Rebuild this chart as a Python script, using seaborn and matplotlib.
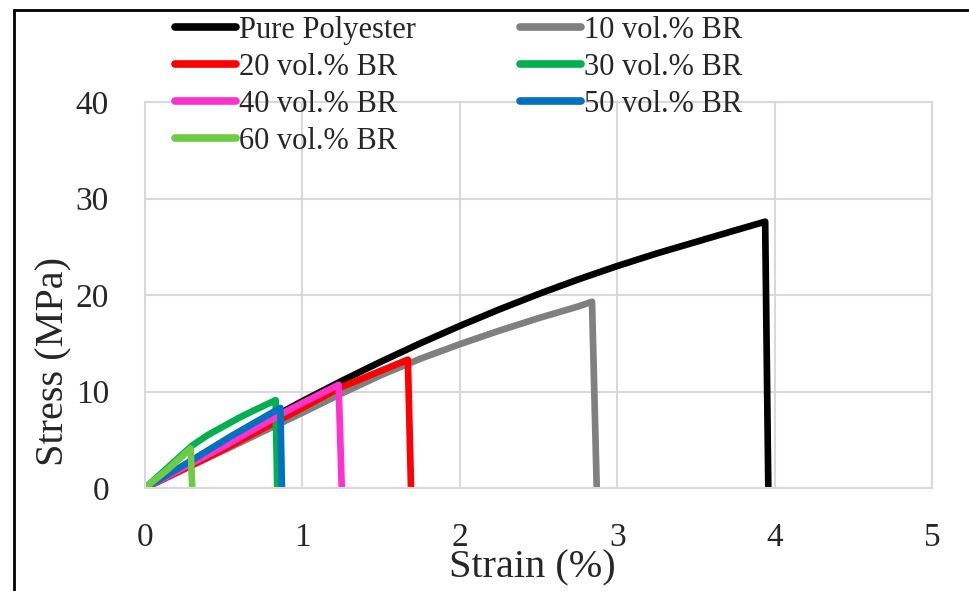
import matplotlib
matplotlib.use("Agg")
import matplotlib.pyplot as plt
from matplotlib.lines import Line2D
from matplotlib.patches import Rectangle
import seaborn as sns
import pandas as pd

# ---- data ----
labels = ["Pure Polyester", "10 vol.% BR", "20 vol.% BR", "30 vol.% BR",
          "40 vol.% BR", "50 vol.% BR", "60 vol.% BR"]
colors = ["#000000", "#808080", "#FF0000", "#00B050", "#FF33CC", "#0070C0", "#6DCC44"]

pure_x = [0, 0.25, 0.5, 0.75, 1.0, 1.25, 1.5, 1.75, 2.0, 2.25, 2.5, 2.75, 3.0, 3.25, 3.5, 3.75, 3.94, 3.96]
pure_y = [0, 2.3, 4.6, 6.8, 9.0, 11.1, 13.1, 15.0, 16.8, 18.5, 20.1, 21.6, 23.0, 24.3, 25.5, 26.7, 27.6, 0]
br10_x = [0, 0.5, 1.0, 1.25, 1.5, 1.75, 2.0, 2.25, 2.5, 2.75, 2.84, 2.87]
br10_y = [0, 3.9, 7.8, 9.8, 11.7, 13.4, 14.9, 16.3, 17.6, 18.8, 19.3, 0]
br20_x = [0, 0.5, 1.0, 1.24, 1.67, 1.69]
br20_y = [0, 4.0, 8.3, 10.4, 13.3, 0]
br30_x = [0, 0.15, 0.3, 0.4, 0.5, 0.6, 0.7, 0.83, 0.84]
br30_y = [0, 2.2, 4.4, 5.5, 6.4, 7.3, 8.1, 9.1, 0]
br40_x = [0, 0.5, 0.88, 1.0, 1.23, 1.25]
br40_y = [0, 4.3, 7.8, 8.8, 10.7, 0]
br50_x = [0, 0.3, 0.55, 0.86, 0.87]
br50_y = [0, 2.9, 5.4, 8.3, 0]
br60_x = [0, 0.15, 0.29, 0.30]
br60_y = [0, 2.0, 4.1, 0]

xs = [pure_x, br10_x, br20_x, br30_x, br40_x, br50_x, br60_x]
ys = [pure_y, br10_y, br20_y, br30_y, br40_y, br50_y, br60_y]

x_ticks = [0, 1, 2, 3, 4, 5]
y_ticks = [0, 10, 20, 30, 40]

rows = []
for lab, xv, yv in zip(labels, xs, ys):
    for i, (a, b) in enumerate(zip(xv, yv)):
        rows.append({"series": lab, "order": i, "Strain": a, "Stress": b})
df = pd.DataFrame(rows)

sns.set_style("white")
plt.rcParams["font.family"] = ["Liberation Serif", "DejaVu Serif"]

fig = plt.figure(figsize=(9.69, 5.91), dpi=100)
ax = fig.add_axes([145 / 969, 1 - 488 / 591, (932 - 145) / 969, (488 - 102) / 591])

sns.lineplot(data=df, x="Strain", y="Stress", hue="series", hue_order=labels,
             palette=colors, units="series", estimator=None, sort=False,
             linewidth=4.8, legend=False, ax=ax)
for ln in ax.lines:
    ln.set_solid_capstyle("round")
    ln.set_solid_joinstyle("round")

ax.set_xlim(0, 5)
ax.set_ylim(0, 40)
ax.set_xticks(x_ticks)
ax.set_yticks(y_ticks)
ax.grid(True, color="#D9D9D9", linewidth=1.5)
ax.set_axisbelow(True)
for s in ax.spines.values():
    s.set_color("#D9D9D9")
    s.set_linewidth(1.5)
ax.tick_params(axis="both", length=0, labelsize=24)
ax.tick_params(axis="x", pad=25)
ax.tick_params(axis="y", pad=26)
ax.set_xlabel("Strain (%)", fontsize=29)
ax.set_ylabel("Stress (MPa)", fontsize=29)
ax.xaxis.set_label_coords((532 - 145) / 787, -(549 - 488) / 386)
ax.yaxis.set_label_coords((72 - 145) / 787, (488 - 362) / 386)

# legend in two columns
handles = [Line2D([0], [0], color=c, linewidth=5.5, solid_capstyle="round") for c in colors]
col1 = [0, 2, 4, 6]
col2 = [1, 3, 5]
common = dict(frameon=False, fontsize=22, handlelength=2.0, handletextpad=0.1,
              labelspacing=0.26, borderpad=0, borderaxespad=0, loc="upper left")
fig.legend([handles[i] for i in col1], [labels[i] for i in col1],
           bbox_to_anchor=(175 / 969, 1 - 16 / 591), **common)
fig.legend([handles[i] for i in col2], [labels[i] for i in col2],
           bbox_to_anchor=(520 / 969, 1 - 16 / 591), **common)

# outer frame (extends beyond right/bottom edges)
fig.patches.append(Rectangle((14 / 969, -0.05), 1.1, 1.05 - 10 / 591, transform=fig.transFigure,
                             fill=False, edgecolor="black", linewidth=2))

fig.savefig("out.png", dpi=100)
